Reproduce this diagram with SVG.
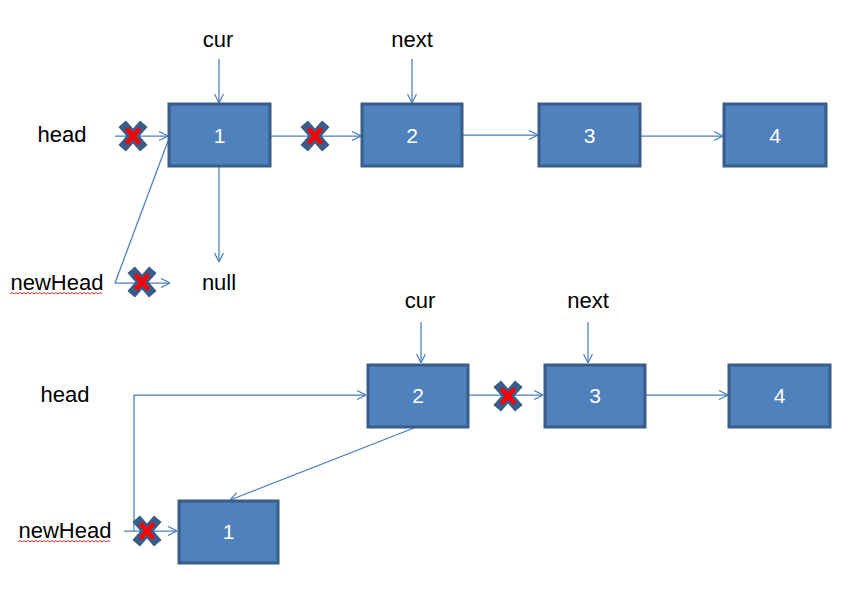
<svg xmlns="http://www.w3.org/2000/svg" width="861" height="604" viewBox="0 0 861 604">
  <style>
    .box { fill: #4f81bd; stroke: #385d8a; stroke-width: 3; }
    .num { font-family: "Liberation Sans", Arial, sans-serif; font-size: 21px; fill: #ffffff; text-anchor: middle; }
    .lbl { font-family: "Liberation Sans", Arial, sans-serif; font-size: 22px; fill: #000000; text-anchor: middle; }
    .edge { fill: none; stroke: #4a7ebb; stroke-width: 1.25; }
    .arr { marker-end: url(#open); }
    .squiggle { fill: none; stroke: #e03030; stroke-width: 1; }
  </style>
  <defs>
    <marker id="open" viewBox="0 0 10 10" refX="10" refY="5" markerWidth="10" markerHeight="10" markerUnits="userSpaceOnUse" orient="auto">
      <path d="M1,0.5 L10,5 L1,9.5" fill="none" stroke="#4a7ebb" stroke-width="1.2"/>
    </marker>
    <g id="cross">
      <path d="M-7.5,-8.5 L7.5,8.5 M7.5,-8.5 L-7.5,8.5" stroke="#385d8a" stroke-width="10" stroke-linecap="square" stroke-linejoin="round" fill="none"/>
      <path d="M-6.5,-7.5 L6.5,7.5 M6.5,-7.5 L-6.5,7.5" stroke="#ff0000" stroke-width="4.5" stroke-linecap="butt" fill="none"/>
    </g>
  </defs>

  <rect width="861" height="604" fill="#ffffff"/>

  <!-- connectors -->
  <g id="connectors">
    <!-- upper list -->
    <path class="edge arr" d="M115,136 L168,136"/>
    <path class="edge arr" d="M219,59 L219,103"/>
    <path class="edge arr" d="M412,59 L412,103"/>
    <path class="edge arr" d="M271,136 L361,136"/>
    <path class="edge arr" d="M462,135 L538,135"/>
    <path class="edge arr" d="M641,136 L723,136"/>
    <path class="edge arr" d="M219,167 L219,262"/>
    <path class="edge" d="M115,283 L168,141"/>
    <path class="edge arr" d="M115,283 L170,283"/>
    <!-- lower list -->
    <path class="edge arr" d="M134,531 L134,395 L366,395"/>
    <path class="edge arr" d="M124,531 L177,531"/>
    <path class="edge arr" d="M421,322 L421,363"/>
    <path class="edge arr" d="M588,322 L588,363"/>
    <path class="edge arr" d="M469,395 L543,395"/>
    <path class="edge arr" d="M646,395 L728,395"/>
    <path class="edge arr" d="M414,428 L230,500"/>
  </g>

  <!-- broken links -->
  <g id="cuts">
    <use href="#cross" x="133" y="136"/>
    <use href="#cross" x="315" y="136"/>
    <use href="#cross" x="142" y="282"/>
    <use href="#cross" x="508" y="396"/>
    <use href="#cross" x="147" y="531"/>
  </g>

  <!-- upper list nodes -->
  <g id="n1-top"><rect class="box" x="169" y="104" width="101" height="62"/><text class="num" x="219.5" y="143">1</text></g>
  <g id="n2-top"><rect class="box" x="362" y="104" width="100" height="62"/><text class="num" x="412" y="143">2</text></g>
  <g id="n3-top"><rect class="box" x="539" y="104" width="101" height="62"/><text class="num" x="589.5" y="143">3</text></g>
  <g id="n4-top"><rect class="box" x="724" y="104" width="102" height="62"/><text class="num" x="775" y="143">4</text></g>

  <!-- lower list nodes -->
  <g id="n2-bottom"><rect class="box" x="368" y="365" width="100" height="62"/><text class="num" x="418" y="403">2</text></g>
  <g id="n3-bottom"><rect class="box" x="545" y="365" width="100" height="62"/><text class="num" x="595" y="403">3</text></g>
  <g id="n4-bottom"><rect class="box" x="729" y="365" width="101" height="62"/><text class="num" x="779.5" y="403">4</text></g>
  <g id="n1-bottom"><rect class="box" x="179" y="501" width="99" height="62"/><text class="num" x="228.5" y="539">1</text></g>

  <!-- pointer labels -->
  <g id="lbl-cur-top"><text class="lbl" x="218" y="47">cur</text></g>
  <g id="lbl-next-top"><text class="lbl" x="412" y="47">next</text></g>
  <g id="lbl-head-top"><text class="lbl" x="62" y="142">head</text></g>
  <g id="lbl-newhead-top">
    <text class="lbl" x="57" y="290">newHead</text>
    <path class="squiggle" d="M10,294 l2,-1.5 l2,1.5 l2,-1.5 l2,1.5 l2,-1.5 l2,1.5 l2,-1.5 l2,1.5 l2,-1.5 l2,1.5 l2,-1.5 l2,1.5 l2,-1.5 l2,1.5 l2,-1.5 l2,1.5 l2,-1.5 l2,1.5 l2,-1.5 l2,1.5 l2,-1.5 l2,1.5 l2,-1.5 l2,1.5 l2,-1.5 l2,1.5 l2,-1.5 l2,1.5 l2,-1.5 l2,1.5 l2,-1.5 l2,1.5 l2,-1.5 l2,1.5 l2,-1.5 l2,1.5 l2,-1.5 l2,1.5 l2,-1.5 l2,1.5 l2,-1.5 l2,1.5 l2,-1.5 l2,1.5 l2,-1.5 l2,1.5"/>
  </g>
  <g id="lbl-null"><text class="lbl" x="219" y="290">null</text></g>
  <g id="lbl-cur-bottom"><text class="lbl" x="420" y="308">cur</text></g>
  <g id="lbl-next-bottom"><text class="lbl" x="588" y="308">next</text></g>
  <g id="lbl-head-bottom"><text class="lbl" x="65" y="402">head</text></g>
  <g id="lbl-newhead-bottom">
    <text class="lbl" x="65" y="538">newHead</text>
    <path class="squiggle" d="M18,542 l2,-1.5 l2,1.5 l2,-1.5 l2,1.5 l2,-1.5 l2,1.5 l2,-1.5 l2,1.5 l2,-1.5 l2,1.5 l2,-1.5 l2,1.5 l2,-1.5 l2,1.5 l2,-1.5 l2,1.5 l2,-1.5 l2,1.5 l2,-1.5 l2,1.5 l2,-1.5 l2,1.5 l2,-1.5 l2,1.5 l2,-1.5 l2,1.5 l2,-1.5 l2,1.5 l2,-1.5 l2,1.5 l2,-1.5 l2,1.5 l2,-1.5 l2,1.5 l2,-1.5 l2,1.5 l2,-1.5 l2,1.5 l2,-1.5 l2,1.5 l2,-1.5 l2,1.5 l2,-1.5 l2,1.5 l2,-1.5 l2,1.5"/>
  </g>
</svg>
